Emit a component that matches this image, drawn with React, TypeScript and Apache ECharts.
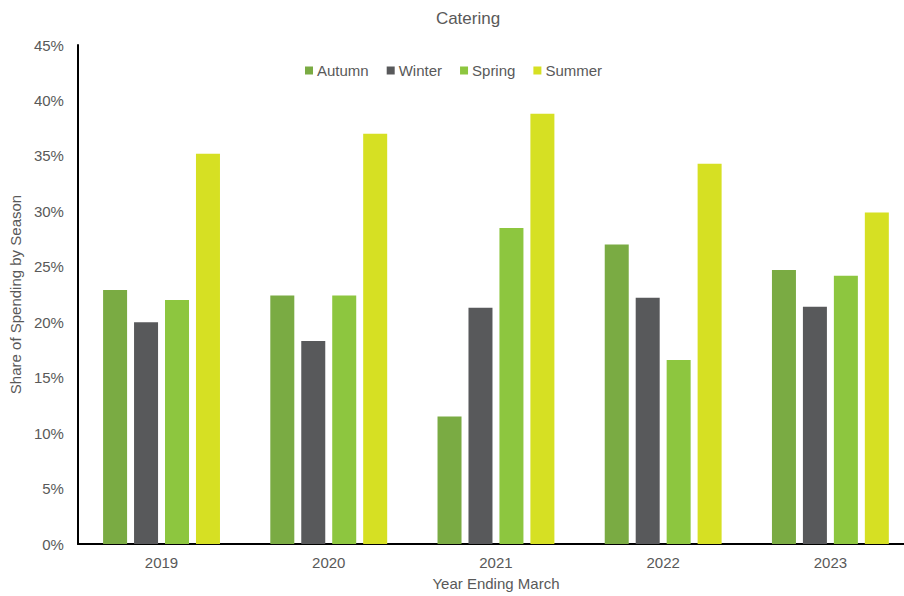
import React, { useEffect, useRef } from "react";
import * as echarts from "echarts";

const years = ["2019", "2020", "2021", "2022", "2023"];
const autumn = [22.9, 22.4, 11.5, 27.0, 24.7];
const winter = [20.0, 18.3, 21.3, 22.2, 21.4];
const spring = [22.0, 22.4, 28.5, 16.6, 24.2];
const summer = [35.2, 37.0, 38.8, 34.3, 29.9];
const seriesNames = ["Autumn", "Winter", "Spring", "Summer"];
const colors = ["#7AAB43", "#58595B", "#8DC63F", "#D6E023"];

const FONT = "'Liberation Sans', Arial, sans-serif";
const TXT = "#595959";

export default function App() {
  const ref = useRef<HTMLDivElement>(null);
  useEffect(() => {
    if (!ref.current) return;
    const chart = echarts.init(ref.current, undefined, { renderer: "svg" });
    const data = [autumn, winter, spring, summer];
    chart.setOption({
      animation: false,
      backgroundColor: "#ffffff",
      textStyle: { fontFamily: FONT },
      title: {
        text: "Catering",
        left: 463,
        top: 5,
        textAlign: "center",
        textStyle: { fontFamily: FONT, fontSize: 17, fontWeight: "normal", color: TXT },
      },
      legend: {
        top: 58,
        left: 300,
        itemWidth: 8,
        itemHeight: 8,
        itemGap: 18,
        icon: "rect",
        textStyle: { fontFamily: FONT, fontSize: 15, color: TXT, padding: [0, 0, 0, -1] },
        data: seriesNames,
      },
      grid: { left: 72, top: 45, right: 6, bottom: 50, containLabel: false },
      xAxis: {
        type: "category",
        data: years,
        name: "Year Ending March",
        nameLocation: "middle",
        nameGap: 32,
        nameTextStyle: { fontFamily: FONT, fontSize: 15, color: TXT },
        axisLine: { lineStyle: { color: "#000000", width: 2 } },
        axisTick: { show: false },
        axisLabel: { fontFamily: FONT, fontSize: 15, color: TXT, margin: 11 },
      },
      yAxis: {
        type: "value",
        min: 0,
        max: 45,
        interval: 5,
        name: "Share of Spending by Season",
        nameLocation: "middle",
        nameGap: 53,
        nameTextStyle: { fontFamily: FONT, fontSize: 15, color: TXT },
        axisLine: { show: true, lineStyle: { color: "#000000", width: 2 } },
        axisTick: { show: false },
        splitLine: { show: false },
        axisLabel: { fontFamily: FONT, fontSize: 15, color: TXT, margin: 14, formatter: "{value}%" },
      },
      series: seriesNames.map((n, i) => ({
        name: n,
        type: "bar",
        data: data[i],
        barWidth: 24,
        barGap: "29%",
        itemStyle: { color: colors[i] },
      })),
    });
    return () => chart.dispose();
  }, []);
  return (
    <div style={{ width: 904, height: 596, position: "absolute", left: 0, top: 0, overflow: "hidden" }}>
      <div ref={ref} style={{ width: 920, height: 596 }} />
    </div>
  );
}
